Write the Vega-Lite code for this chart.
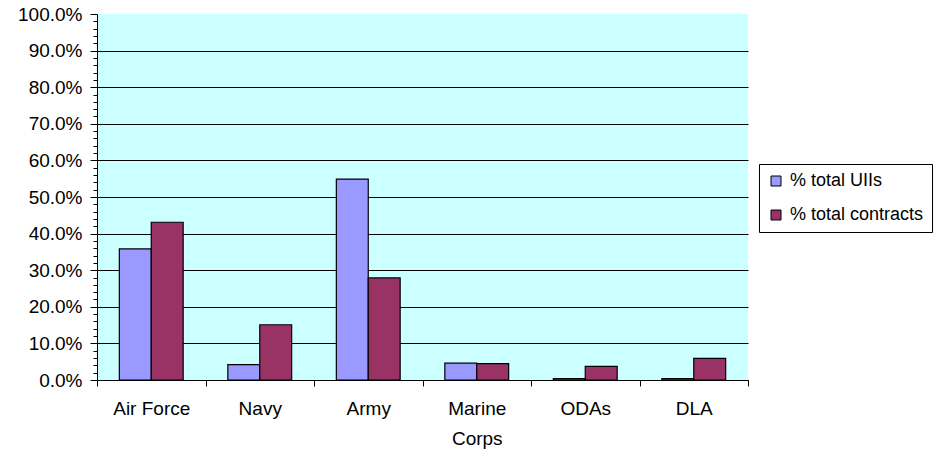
{
  "$schema": "https://vega.github.io/schema/vega-lite/v6.json",
  "autosize": "none",
  "width": 651,
  "height": 366,
  "padding": {"left": 97, "top": 14, "right": 185, "bottom": 71},
  "background": "white",
  "data": {
    "values": [
      {"service": "Air Force", "series": "% total UIIs", "value": 0.358},
      {"service": "Air Force", "series": "% total contracts", "value": 0.431},
      {"service": "Navy", "series": "% total UIIs", "value": 0.042},
      {"service": "Navy", "series": "% total contracts", "value": 0.151},
      {"service": "Army", "series": "% total UIIs", "value": 0.549},
      {"service": "Army", "series": "% total contracts", "value": 0.279},
      {"service": "Marine Corps", "series": "% total UIIs", "value": 0.046},
      {"service": "Marine Corps", "series": "% total contracts", "value": 0.045},
      {"service": "ODAs", "series": "% total UIIs", "value": 0.004},
      {"service": "ODAs", "series": "% total contracts", "value": 0.037},
      {"service": "DLA", "series": "% total UIIs", "value": 0.004},
      {"service": "DLA", "series": "% total contracts", "value": 0.059}
    ]
  },
  "mark": {"type": "bar", "stroke": "black", "strokeWidth": 1.2},
  "encoding": {
    "x": {
      "field": "service",
      "type": "nominal",
      "sort": null,
      "scale": {"paddingInner": 0, "paddingOuter": 0},
      "axis": {
        "title": null,
        "labelAngle": 0,
        "tickBand": "extent",
        "tickSize": 6,
        "tickColor": "black",
        "domainColor": "black",
        "labelFont": "Liberation Sans",
        "labelFontSize": 19,
        "labelColor": "black",
        "labelPadding": 13,
        "labelLineHeight": 30,
        "labelExpr": "datum.label == 'Marine Corps' ? ['Marine', 'Corps'] : datum.label"
      }
    },
    "xOffset": {
      "field": "series",
      "type": "nominal",
      "sort": ["% total UIIs", "% total contracts"],
      "scale": {"paddingInner": 0, "paddingOuter": 0.7}
    },
    "y": {
      "field": "value",
      "type": "quantitative",
      "scale": {"domain": [0, 1], "nice": false},
      "axis": {
        "title": null,
        "values": [0,0.02,0.04,0.06,0.08,0.1,0.12,0.14,0.16,0.18,0.2,0.22,0.24,0.26,0.28,0.3,0.32,0.34,0.36,0.38,0.4,0.42,0.44,0.46,0.48,0.5,0.52,0.54,0.56,0.58,0.6,0.62,0.64,0.66,0.68,0.7,0.72,0.74,0.76,0.78,0.8,0.82,0.84,0.86,0.88,0.9,0.92,0.94,0.96,0.98,1],
        "labelExpr": "round(datum.value*100) % 10 == 0 ? format(datum.value, '.1%') : ''",
        "labelOverlap": false,
        "labelFont": "Liberation Sans",
        "labelFontSize": 19,
        "labelColor": "black",
        "labelPadding": 8,
        "tickColor": "black",
        "domainColor": "black",
        "tickSize": {"condition": {"test": "round(datum.value*100) % 10 == 0", "value": 7}, "value": 4},
        "grid": true,
        "gridColor": "black",
        "gridWidth": 1,
        "gridOpacity": {"condition": {"test": "round(datum.value*100) % 10 == 0 && datum.value < 0.99", "value": 1}, "value": 0}
      }
    },
    "color": {
      "field": "series",
      "type": "nominal",
      "scale": {"domain": ["% total UIIs", "% total contracts"], "range": ["#9999FF", "#993366"]},
      "legend": {
        "title": null,
        "orient": "none",
        "legendX": 662,
        "legendY": 150,
        "symbolType": "square",
        "symbolSize": 100,
        "symbolStrokeColor": "black",
        "symbolStrokeWidth": 1,
        "symbolOpacity": 1,
        "labelFont": "Liberation Sans",
        "labelFontSize": 18,
        "labelColor": "black",
        "labelOffset": 5,
        "labelLimit": 300,
        "rowPadding": 16,
        "padding": 8,
        "strokeColor": "black",
        "fillColor": "white"
      }
    }
  },
  "config": {
    "view": {"fill": "#CCFFFF", "stroke": null}
  }
}
